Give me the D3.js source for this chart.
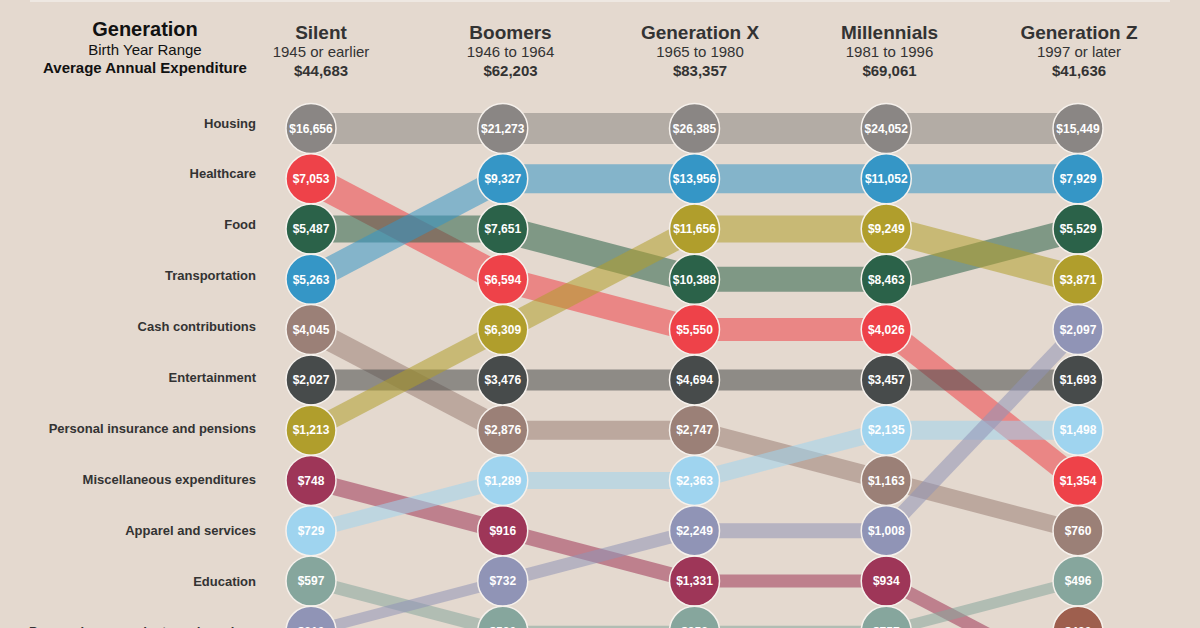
<!DOCTYPE html>
<html>
<head>
<meta charset="utf-8">
<script src="https://cdn.jsdelivr.net/npm/d3@7"></script>
<style>
  html, body { margin: 0; padding: 0; background: #e4d9cf; overflow: hidden; }
  svg { display: block; font-family: "Liberation Sans", Arial, sans-serif; }
</style>
</head>
<body>
<svg id="chart" width="1200" height="628"></svg>
<script>
// ---- Data ----
const generations = ["Silent", "Boomers", "Generation X", "Millennials", "Generation Z"];
const birthRanges = ["1945 or earlier", "1946 to 1964", "1965 to 1980", "1981 to 1996", "1997 or later"];
const totals = ["$44,683", "$62,203", "$83,357", "$69,061", "$41,636"];

const categories = [
  "Housing", "Healthcare", "Food", "Transportation", "Cash contributions",
  "Entertainment", "Personal insurance and pensions", "Miscellaneous expenditures",
  "Apparel and services", "Education", "Personal care products and services", "Other expenditures"
];
const colors = [
  "#8a8684", "#ee4249", "#2b6249", "#3596c6", "#9b8077",
  "#474b4b", "#b09e2c", "#9e3658", "#9fd4ef", "#86a69d", "#9094b6", "#9e5f4e"
];
// values per category, in generation order (null = not shown)
const housing        = [16656, 21273, 26385, 24052, 15449];
const healthcare     = [7053, 6594, 5550, 4026, 1354];
const food           = [5487, 7651, 10388, 8463, 5529];
const transportation = [5263, 9327, 13956, 11052, 7929];
const cash           = [4045, 2876, 2747, 1163, 760];
const entertainment  = [2027, 3476, 4694, 3457, 1693];
const insurance      = [1213, 6309, 11656, 9249, 3871];
const misc           = [748, 916, 1331, 934, 390];
const apparel        = [729, 1289, 2363, 2135, 1498];
const education      = [597, 580, 858, 757, 496];
const personalCare   = [310, 732, 2249, 1008, 2097];
const other          = [null, null, null, null, 420];
const seriesValues = [housing, healthcare, food, transportation, cash, entertainment,
  insurance, misc, apparel, education, personalCare, other];

// ---- Build ranks ----
const ranks = seriesValues.map(() => generations.map(() => null));
generations.forEach((g, gi) => {
  const idx = seriesValues.map((s, ci) => ci).filter(ci => seriesValues[ci][gi] != null);
  idx.sort((a, b) => seriesValues[b][gi] - seriesValues[a][gi]);
  idx.forEach((ci, r) => { ranks[ci][gi] = r + 1; });
});

const svg = d3.select("#chart");
const fmt = d3.format("$,");

// scales
const x = d3.scalePoint().domain(generations).range([311, 1078]);
const xHead = d3.scalePoint().domain(generations).range([321, 1079]);
const y = d3.scaleLinear().domain([1, 10]).range([128.5, 581]);
const yLabel = d3.scaleLinear().domain([1, 10]).range([123, 581]);
const strokeW = d3.scaleLinear().domain([1, 12]).range([31, 9]);

// top strip
svg.append("rect").attr("x", 30).attr("y", 0).attr("width", 1140).attr("height", 2).attr("fill", "#eee8e2");

// header left
const hl = svg.append("g").attr("text-anchor", "middle");
hl.append("text").attr("x", 145).attr("y", 36).attr("font-size", 20).attr("font-weight", "bold").attr("fill", "#111").text("Generation");
hl.append("text").attr("x", 145).attr("y", 55).attr("font-size", 15).attr("fill", "#111").text("Birth Year Range");
hl.append("text").attr("x", 145).attr("y", 73).attr("font-size", 15).attr("font-weight", "bold").attr("fill", "#111").text("Average Annual Expenditure");

// column headers
const hg = svg.append("g").attr("text-anchor", "middle").attr("fill", "#333");
generations.forEach((g, i) => {
  hg.append("text").attr("x", xHead(g)).attr("y", 39).attr("font-size", 19).attr("font-weight", "bold").text(g);
  hg.append("text").attr("x", xHead(g)).attr("y", 57).attr("font-size", 15).text(birthRanges[i]);
  hg.append("text").attr("x", xHead(g)).attr("y", 76).attr("font-size", 15).attr("font-weight", "bold").text(totals[i]);
});

// row labels (ordered by first generation rank)
const lg = svg.append("g").attr("text-anchor", "end").attr("fill", "#333")
  .attr("font-size", 13).attr("font-weight", "bold");
categories.forEach((c, ci) => {
  const r = ranks[ci][0];
  if (r == null) return;
  lg.append("text").attr("x", 256).attr("y", yLabel(r)).attr("dy", "0.35em").text(c);
});

// connecting bands
const segs = [];
categories.forEach((c, ci) => {
  for (let gi = 0; gi < generations.length - 1; gi++) {
    const r0 = ranks[ci][gi], r1 = ranks[ci][gi + 1];
    if (r0 == null || r1 == null) continue;
    segs.push({ ci, x0: x(generations[gi]), y0: y(r0), x1: x(generations[gi + 1]), y1: y(r1), r0 });
  }
});
svg.append("g").selectAll("line").data(segs).join("line")
  .attr("x1", d => d.x0).attr("y1", d => d.y0)
  .attr("x2", d => d.x1).attr("y2", d => d.y1)
  .attr("stroke", d => colors[d.ci])
  .attr("stroke-opacity", 0.55)
  .attr("stroke-width", d => strokeW(d.r0))
  .attr("stroke-linecap", "butt");

// nodes
const nodes = [];
categories.forEach((c, ci) => {
  generations.forEach((g, gi) => {
    if (ranks[ci][gi] == null) return;
    nodes.push({ ci, g, r: ranks[ci][gi], v: seriesValues[ci][gi] });
  });
});
const ng = svg.append("g").selectAll("g").data(nodes).join("g")
  .attr("transform", d => `translate(${x(d.g)},${y(d.r)})`);
ng.append("circle").attr("r", 25).attr("fill", d => colors[d.ci])
  .attr("stroke", "#f6f1ec").attr("stroke-width", 1.5);
ng.append("text").attr("text-anchor", "middle").attr("dy", "0.36em")
  .attr("font-size", 12).attr("font-weight", "bold").attr("fill", "#fff")
  .text(d => fmt(d.v));
</script>
</body>
</html>
